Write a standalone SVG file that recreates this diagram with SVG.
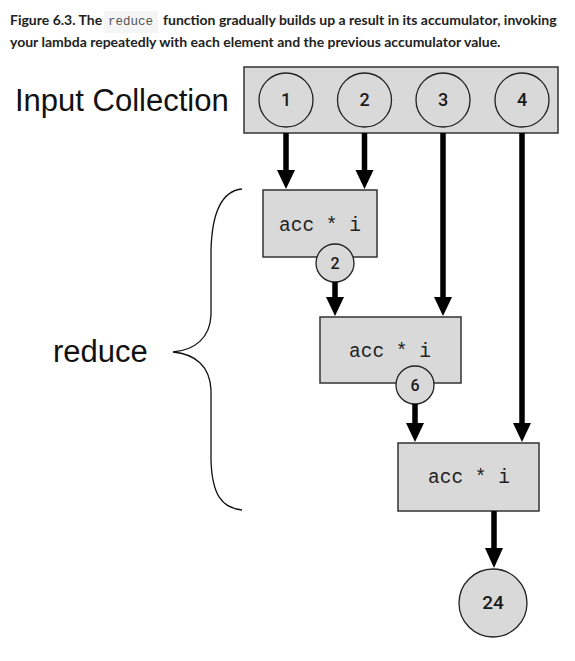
<svg xmlns="http://www.w3.org/2000/svg" width="575" height="661" viewBox="0 0 575 661">
<style>
.cap{font-family:Lato,"Liberation Sans",sans-serif;font-weight:700;font-size:14px;fill:#222}
.code{font-family:"Liberation Mono","DejaVu Sans Mono",monospace;font-size:12.5px;fill:#555}
.big{font-family:"Liberation Sans",Arial,sans-serif;font-size:31px;fill:#111}
.box{fill:#d9d9d9;stroke:#333;stroke-width:1.5}
.circ{fill:#d9d9d9;stroke:#222;stroke-width:1.3}
.num{font-family:Roboto,"DejaVu Sans",sans-serif;font-weight:500;font-size:18px;fill:#1a1a1a;text-anchor:middle}
.mono{font-family:"Liberation Mono","DejaVu Sans Mono",monospace;font-size:19.5px;fill:#222;text-anchor:middle}
.shaft{stroke:#000;stroke-width:5.5;fill:none}
.head{fill:#000}
</style>
<rect width="575" height="661" fill="#fff"/>
<g id="caption">
<rect x="104" y="11" width="54" height="22" fill="#f5f5f5"/>
<text class="cap" x="10" y="25">Figure 6.3. The</text>
<text class="code" x="108" y="25">reduce</text>
<text class="cap" x="163" y="25">function gradually builds up a result in its accumulator, invoking</text>
<text class="cap" x="10" y="47">your lambda repeatedly with each element and the previous accumulator value.</text>
</g>
<g id="input-label"><text class="big" x="15" y="111">Input Collection</text></g>
<g id="input-collection">
<rect class="box" x="244" y="67" width="314" height="66"/>
<circle class="circ" cx="286" cy="100" r="27"/><text class="num" x="286" y="106">1</text>
<circle class="circ" cx="364.5" cy="100" r="27"/><text class="num" x="364.5" y="106">2</text>
<circle class="circ" cx="443" cy="100" r="27"/><text class="num" x="443" y="106">3</text>
<circle class="circ" cx="522" cy="100" r="27"/><text class="num" x="522" y="106">4</text>
</g>
<g id="reduce-label">
<text class="big" x="53" y="362">reduce</text>
<path d="M242,189 C222,191 212,212 211,250 L211,315 C210,338 195,350 173,352 C195,354 210,366 211,390 L211,460 C212,495 222,508 242,510" fill="none" stroke="#111" stroke-width="1.3"/>
</g>
<g id="step1">
<rect class="box" x="263" y="190" width="114" height="67"/>
<text class="mono" x="320" y="231">acc * i</text>
<circle class="circ" cx="335" cy="263" r="19"/><text class="num" x="335" y="269" style="font-size:16px">2</text>
</g>
<g id="step2">
<rect class="box" x="320" y="317" width="141" height="66"/>
<text class="mono" x="390" y="357">acc * i</text>
<circle class="circ" cx="415" cy="385" r="19"/><text class="num" x="415" y="391" style="font-size:16px">6</text>
</g>
<g id="step3">
<rect class="box" x="398" y="443" width="141" height="68"/>
<text class="mono" x="469" y="483">acc * i</text>
</g>
<g id="result">
<circle class="circ" cx="493" cy="603" r="34"/><text class="num" x="493" y="609" style="font-size:19px">24</text>
</g>
<g id="connectors">
<line class="shaft" x1="286" y1="133" x2="286" y2="175"/><polygon class="head" points="277,170 295,170 286,189"/>
<line class="shaft" x1="364.5" y1="133" x2="364.5" y2="175"/><polygon class="head" points="355.5,170 373.5,170 364.5,189"/>
<line class="shaft" x1="443" y1="133" x2="443" y2="302"/><polygon class="head" points="434,297 452,297 443,316"/>
<line class="shaft" x1="522" y1="133" x2="522" y2="428"/><polygon class="head" points="513,423 531,423 522,442"/>
<line class="shaft" x1="335" y1="282" x2="335" y2="302"/><polygon class="head" points="326,297 344,297 335,316"/>
<line class="shaft" x1="415" y1="404" x2="415" y2="428"/><polygon class="head" points="406,423 424,423 415,442"/>
<line class="shaft" x1="494" y1="511" x2="494" y2="553"/><polygon class="head" points="485,548 503,548 494,568"/>
</g>
</svg>
